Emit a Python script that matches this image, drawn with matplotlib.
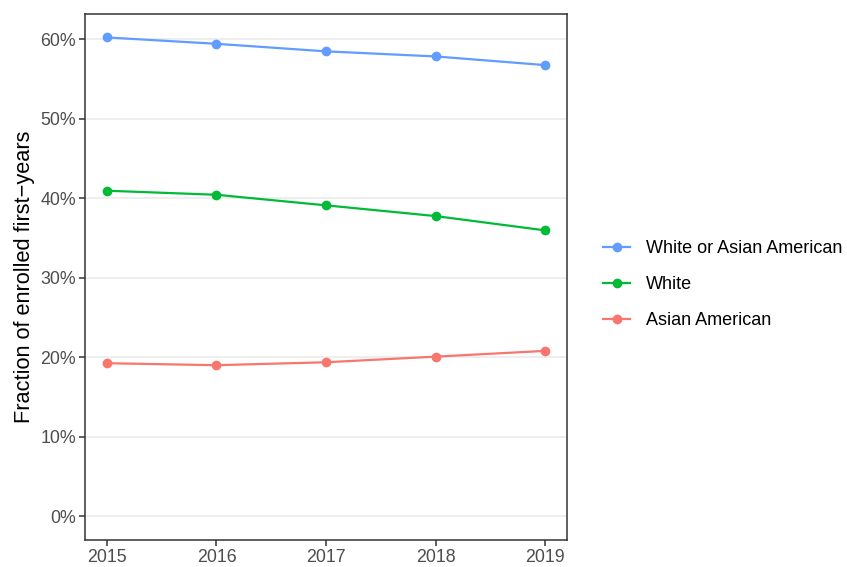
import numpy as np
import matplotlib
matplotlib.use("Agg")
import matplotlib.pyplot as plt
from matplotlib.ticker import FuncFormatter

plt.rcParams["font.family"] = ["Liberation Sans", "DejaVu Sans"]

# ---------- data ----------
years = [2015, 2016, 2017, 2018, 2019]
white_or_asian = [60.25, 59.45, 58.5, 57.86, 56.77]
white = [40.96, 40.45, 39.12, 37.77, 35.97]
asian = [19.25, 19.0, 19.37, 20.08, 20.8]

series = [
    ("White or Asian American", white_or_asian, "#619CFF"),
    ("White", white, "#00BA38"),
    ("Asian American", asian, "#F8766D"),
]

fig = plt.figure(figsize=(8.47, 5.67), dpi=100)
ax = fig.add_axes([0.1004, 0.0476, 0.5690, 0.9277])

for name, vals, col in series:
    ax.plot(years, vals, color=col, lw=1.6, marker="o", ms=6, label=name,
            zorder=3)

ax.set_xlim(2014.8, 2019.2)
ax.set_ylim(-3.0, 63.2)
ax.set_xticks(years)
ax.set_yticks(np.arange(0, 61, 10))
ax.yaxis.set_major_formatter(FuncFormatter(lambda v, p: f"{v:.0f}%"))
ax.grid(axis="y", color="#EBEBEB", lw=1.2, zorder=0)
ax.set_axisbelow(True)

for s in ax.spines.values():
    s.set_color("#333333")
    s.set_linewidth(1.1)
ax.tick_params(colors="#333333", labelcolor="#4D4D4D", labelsize=12.8,
               length=4, width=1.1, pad=2.5)

ax.set_ylabel("Fraction of enrolled first\u2212years", fontsize=15.7,
              color="black", labelpad=4)

ax.legend(loc="center left", bbox_to_anchor=(1.04, 0.485), frameon=False,
          fontsize=13, handlelength=1.55, labelspacing=1.05, handletextpad=0.85)

fig.savefig("out.png", dpi=100)
